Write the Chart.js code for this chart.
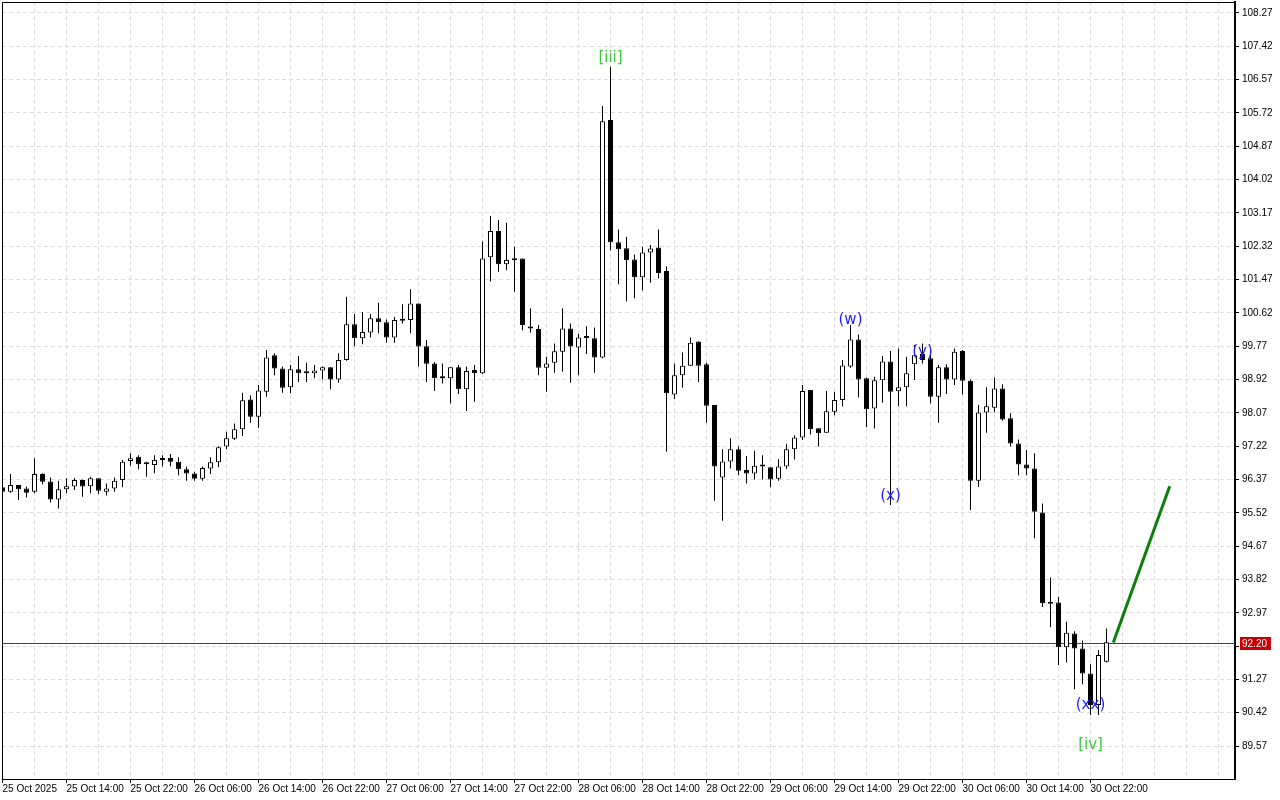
<!DOCTYPE html>
<html>
<head>
<meta charset="utf-8">
<title>H1 wave count</title>
<script src="https://cdn.jsdelivr.net/npm/chart.js@4.4.1/dist/chart.umd.min.js"></script>
<style>
    html, body { margin: 0; padding: 0; background: #ffffff; }
    #wrap { width: 1280px; height: 800px; }
</style>
</head>
<body>
<div id="wrap"><canvas id="priceChart" width="1280" height="800"></canvas></div>
<script>
// Hourly candles, index 0 = 25 Oct 06:00
const opens = [
    96.17, 96.06, 96.23, 96.14, 96.06, 96.51, 96.32, 95.86, 96.12, 96.19,
    96.36, 96.20, 96.40, 96.06, 96.14, 96.36, 96.84, 96.95, 96.80, 96.74,
    96.87, 96.92, 96.82, 96.63, 96.52, 96.39, 96.65, 96.81, 97.21, 97.41,
    97.65, 98.41, 97.97, 98.61, 99.54, 99.20, 98.72, 99.18, 99.08, 99.08,
    99.15, 99.23, 98.92, 99.42, 100.33, 99.97, 100.12, 100.48, 100.38, 99.99,
    100.46, 100.44, 100.86, 99.77, 99.33, 98.96, 98.95, 99.23, 98.67, 99.16,
    99.08, 102.04, 102.71, 101.86, 101.96, 102.01, 100.23, 100.21, 99.22, 99.35,
    99.63, 100.22, 99.74, 99.99, 99.97, 99.48, 105.54, 102.42, 102.27, 101.98,
    101.53, 102.16, 102.29, 101.69, 98.54, 99.03, 99.27, 99.89, 99.31, 98.27,
    96.42, 96.83, 97.14, 96.61, 96.52, 96.70, 96.68, 96.39, 96.70, 97.14,
    97.44, 98.65, 97.68, 97.56, 98.10, 98.40, 99.25, 99.94, 98.95, 98.18,
    98.90, 99.38, 98.62, 98.72, 99.31, 99.57, 99.46, 98.48, 99.23, 98.92,
    99.65, 98.89, 96.34, 98.08, 98.20, 98.69, 97.93, 97.29, 96.75, 96.65,
    95.53, 93.21, 93.23, 92.09, 92.44, 92.06, 91.42, 90.62, 91.72
];
const highs = [
    96.22, 96.51, 96.23, 96.19, 96.91, 96.53, 96.42, 96.34, 96.40, 96.41,
    96.37, 96.44, 96.40, 96.27, 96.42, 96.87, 97.04, 96.99, 96.82, 96.99,
    96.99, 97.02, 96.94, 96.70, 96.57, 96.70, 96.94, 97.22, 97.59, 97.80,
    98.58, 98.52, 98.78, 99.67, 99.59, 99.25, 99.29, 99.52, 99.35, 99.29,
    99.25, 99.23, 99.59, 101.03, 100.59, 100.64, 100.59, 100.88, 100.45, 100.52,
    100.84, 101.22, 100.86, 99.93, 99.37, 99.33, 99.23, 99.29, 99.25, 99.29,
    102.44, 103.09, 102.99, 102.92, 102.31, 102.01, 100.74, 100.31, 99.50, 99.84,
    100.74, 100.35, 100.08, 100.28, 100.25, 105.90, 106.90, 102.75, 102.56, 102.11,
    102.31, 102.35, 102.75, 101.81, 99.33, 99.61, 99.99, 99.89, 99.35, 98.27,
    97.14, 97.42, 97.21, 96.97, 97.10, 96.99, 96.68, 96.89, 97.28, 97.50,
    98.78, 98.65, 97.68, 98.63, 98.61, 99.42, 100.31, 100.07, 98.97, 98.99,
    99.52, 99.65, 99.71, 99.50, 99.80, 99.84, 99.67, 99.29, 99.31, 99.71,
    99.67, 98.92, 98.27, 98.72, 98.97, 98.80, 98.06, 97.39, 97.12, 97.04,
    95.76, 93.87, 93.38, 92.74, 92.50, 92.26, 91.66, 92.02, 92.57
];
const lows = [
    96.00, 96.03, 95.85, 95.91, 96.02, 96.25, 95.78, 95.63, 96.02, 96.10,
    95.93, 96.02, 96.00, 95.96, 96.06, 96.17, 96.72, 96.63, 96.44, 96.53,
    96.70, 96.71, 96.48, 96.34, 96.34, 96.34, 96.51, 96.68, 97.14, 97.38,
    97.48, 97.82, 97.69, 98.48, 99.03, 98.58, 98.57, 98.86, 98.86, 98.95,
    98.92, 98.67, 98.84, 99.40, 99.77, 99.82, 99.99, 100.10, 99.86, 99.86,
    100.35, 100.10, 99.25, 98.86, 98.63, 98.82, 98.31, 98.55, 98.12, 98.35,
    99.06, 101.42, 101.67, 101.71, 101.16, 100.18, 100.11, 99.03, 98.61, 99.09,
    99.12, 98.84, 99.03, 99.57, 99.09, 99.46, 102.22, 101.35, 100.91, 100.99,
    101.19, 101.39, 101.50, 97.08, 98.42, 98.71, 99.27, 98.86, 97.82, 95.83,
    95.32, 96.65, 96.48, 96.27, 96.37, 96.37, 96.17, 96.34, 96.64, 96.88,
    97.38, 97.52, 97.21, 97.56, 98.01, 98.23, 99.22, 98.46, 97.70, 97.67,
    98.33, 95.72, 98.24, 98.24, 98.91, 99.33, 98.31, 97.82, 98.55, 98.78,
    98.54, 95.59, 96.18, 97.56, 98.08, 97.87, 97.21, 96.48, 96.48, 94.87,
    93.12, 92.60, 91.64, 91.70, 91.02, 91.15, 90.36, 90.36, 91.70
];
const closes = [
    96.06, 96.23, 96.12, 96.03, 96.51, 96.31, 95.86, 96.12, 96.20, 96.36,
    96.19, 96.40, 96.08, 96.14, 96.34, 96.82, 96.91, 96.76, 96.76, 96.87,
    96.91, 96.82, 96.63, 96.52, 96.39, 96.66, 96.81, 97.19, 97.42, 97.65,
    98.39, 97.97, 98.64, 99.48, 99.20, 98.71, 99.18, 99.08, 99.09, 99.15,
    99.23, 98.92, 99.42, 100.33, 99.97, 100.13, 100.48, 100.38, 99.99, 100.44,
    100.42, 100.86, 99.76, 99.32, 98.95, 98.95, 99.23, 98.67, 99.14, 99.08,
    102.01, 102.71, 101.86, 101.97, 102.01, 100.31, 100.22, 99.22, 99.33, 99.64,
    100.22, 99.76, 99.99, 99.98, 99.48, 105.51, 102.42, 102.24, 101.97, 101.53,
    102.16, 102.26, 101.64, 98.57, 99.03, 99.27, 99.86, 99.27, 98.25, 96.70,
    96.83, 97.14, 96.59, 96.52, 96.72, 96.71, 96.37, 96.70, 97.14, 97.44,
    98.63, 97.66, 97.55, 98.11, 98.40, 99.28, 99.94, 98.92, 98.16, 98.90,
    99.38, 98.61, 98.72, 99.08, 99.54, 99.42, 98.48, 99.23, 98.92, 99.63,
    98.89, 96.34, 98.08, 98.24, 98.69, 97.90, 97.29, 96.75, 96.65, 95.55,
    93.21, 93.20, 92.09, 92.46, 92.06, 91.42, 90.62, 91.89, 92.22
];

// time axis labels, one every 8 bars
const xLabels = [
    "25 Oct 2025", "25 Oct 14:00", "25 Oct 22:00", "26 Oct 06:00", "26 Oct 14:00",
    "26 Oct 22:00", "27 Oct 06:00", "27 Oct 14:00", "27 Oct 22:00", "28 Oct 06:00",
    "28 Oct 14:00", "28 Oct 22:00", "29 Oct 06:00", "29 Oct 14:00", "29 Oct 22:00",
    "30 Oct 06:00", "30 Oct 14:00", "30 Oct 22:00"
];
const labelStep = 8;

// price axis labels
const yTicks = [
    89.57, 90.42, 91.27, 92.12, 92.97, 93.82, 94.67, 95.52, 96.37, 97.22, 98.07, 98.92,
    99.77, 100.62, 101.47, 102.32, 103.17, 104.02, 104.87, 105.72, 106.57, 107.42, 108.27
];
const yMin = 88.73;
const yMax = 108.55;
const xMin = -0.0625;
const xMax = 154.0625;

const bidPrice = 92.20;

// projected move
const targetX = [138.85, 145.9];
const targetY = [92.21, 96.20];

// wave marks
const waveText = ["[iii]", "(w)", "(x)", "(y)", "(xx)", "[iv]"];
const waveBar = [76, 106, 111, 115, 136, 136];
const wavePrice = [107.12, 100.44, 95.95, 99.62, 90.62, 89.60];
const waveDegree = ["minor", "minute", "minute", "minute", "minute", "minor"];

const degreeColors = { minor: "#3bc83b", minute: "#1e1eff" };

Chart.defaults.font.family = '"Liberation Sans", Arial, sans-serif';
Chart.defaults.font.size = 10;
Chart.defaults.color = "#000000";

const wicks = lows.map((l, i) => ({ x: i, y: [l, highs[i]] }));
const bodies = opens.map((o, i) => ({ x: i, y: [o, closes[i]] }));
const bodyColors = opens.map((o, i) => closes[i] > o ? "#ffffff" : "#000000");

// red bid line, frame and wave labels
const overlayPlugin = {
    id: "overlay",
    beforeDatasetsDraw(chart) {
        const { ctx, chartArea, scales } = chart;
        const py = Math.round(scales.y.getPixelForValue(bidPrice));
        ctx.save();
        ctx.fillStyle = "#e00000";
        ctx.fillRect(chartArea.left, py, chartArea.right - chartArea.left, 1);
        ctx.restore();
    },
    afterDatasetsDraw(chart) {
        const { ctx, scales } = chart;
        ctx.save();
        ctx.font = '15px "DejaVu Sans", sans-serif';
        ctx.textAlign = "center";
        ctx.textBaseline = "middle";
        waveText.forEach((t, k) => {
            ctx.fillStyle = degreeColors[waveDegree[k]];
            ctx.fillText(t, scales.x.getPixelForValue(waveBar[k]), scales.y.getPixelForValue(wavePrice[k]));
        });
        ctx.restore();
    },
    afterDraw(chart) {
        const { ctx, chartArea, scales } = chart;
        ctx.save();
        ctx.strokeStyle = "#000000";
        ctx.lineWidth = 1;
        ctx.beginPath();
        ctx.moveTo(chartArea.left + 0.5, chartArea.bottom);
        ctx.lineTo(chartArea.left + 0.5, chartArea.top + 0.5);
        ctx.lineTo(chartArea.right, chartArea.top + 0.5);
        ctx.stroke();

        // price tag on the axis
        const py = Math.round(scales.y.getPixelForValue(bidPrice));
        ctx.fillStyle = "#c80000";
        ctx.fillRect(chartArea.right + 5, py - 6, 31, 13);
        ctx.fillStyle = "#ffffff";
        ctx.font = '10px "Liberation Sans", Arial, sans-serif';
        ctx.textAlign = "left";
        ctx.textBaseline = "middle";
        ctx.fillText(bidPrice.toFixed(2), chartArea.right + 7, py + 1);
        ctx.restore();
    }
};

new Chart(document.getElementById("priceChart"), {
    type: "bar",
    data: {
        datasets: [
            {
                type: "line",
                label: "target",
                data: targetX.map((x, i) => ({ x: x, y: targetY[i] })),
                borderColor: "#0a800a",
                borderWidth: 3,
                pointRadius: 0,
                order: 0
            },
            {
                label: "bodies",
                data: bodies,
                backgroundColor: bodyColors,
                borderColor: "#000000",
                borderWidth: 1,
                borderSkipped: false,
                barThickness: 5,
                minBarLength: 2,
                inflateAmount: 0,
                grouped: false,
                order: 1
            },
            {
                label: "wicks",
                data: wicks,
                backgroundColor: "#000000",
                borderWidth: 0,
                barThickness: 1,
                inflateAmount: 0,
                grouped: false,
                order: 2
            }
        ]
    },
    options: {
        responsive: false,
        animation: false,
        layout: { padding: { left: 2, top: 2, right: 0, bottom: 0 } },
        plugins: {
            legend: { display: false },
            tooltip: { enabled: false }
        },
        scales: {
            x: {
                type: "linear",
                min: xMin,
                max: xMax,
                offset: false,
                afterFit(scale) {
                    scale.height = 21;
                    scale.paddingLeft = 0;
                    scale.paddingRight = 0;
                },
                afterBuildTicks(scale) {
                    const ticks = [];
                    for (let v = 0; v < xMax; v += labelStep / 2) ticks.push({ value: v });
                    scale.ticks = ticks;
                },
                ticks: {
                    autoSkip: false,
                    maxRotation: 0,
                    minRotation: 0,
                    align: "start",
                    padding: 0,
                    color: "#000000",
                    callback: v => (v % labelStep === 0 ? (xLabels[v / labelStep] || "") : "")
                },
                grid: {
                    offset: false,
                    color: "#dcdcdc",
                    tickLength: 4,
                    tickBorderDash: [],
                    tickColor: c => (c.tick && c.tick.value % labelStep === 0 && xLabels[c.tick.value / labelStep]) ? "#000000" : "rgba(0,0,0,0)"
                },
                border: { display: true, color: "#000000", width: 1, dash: [4, 3] }
            },
            y: {
                position: "right",
                min: yMin,
                max: yMax,
                beginAtZero: false,
                afterFit(scale) {
                    scale.width = 45;
                    scale.paddingTop = 0;
                    scale.paddingBottom = 0;
                },
                afterBuildTicks(scale) {
                    scale.ticks = yTicks.map(v => ({ value: v }));
                },
                ticks: {
                    padding: 3,
                    color: "#000000",
                    callback: v => Number(v).toFixed(2)
                },
                grid: {
                    color: "#dcdcdc",
                    tickColor: "#000000",
                    tickLength: 4,
                    tickBorderDash: []
                },
                border: { display: true, color: "#000000", width: 2, dash: [4, 3] }
            }
        }
    },
    plugins: [overlayPlugin]
});
</script>
</body>
</html>
